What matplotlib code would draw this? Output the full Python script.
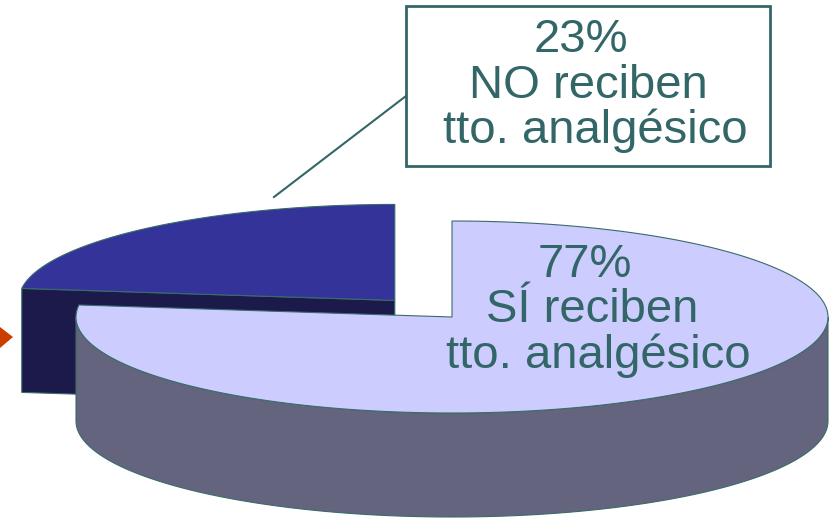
import numpy as np
import matplotlib
matplotlib.use("Agg")
import matplotlib.pyplot as plt
from matplotlib.patches import Polygon, Rectangle

plt.rcParams['font.family'] = ['Liberation Sans', 'DejaVu Sans']

# data
labels = ["SÍ reciben\ntto. analgésico", "NO reciben\ntto. analgésico"]
values = [77, 23]
top_colors = ["#ccccff", "#333399"]
side_colors = ["#64647e", "#1b1a4b"]
explode = [0.0, 0.23]

text_col = "#336666"
edge_col = "#3a6b6b"

# pie geometry (pixel space, y down)
cx, cy = 452, 317
ra, rb = 376, 96
depth = 104

fig = plt.figure(figsize=(8.36, 5.21), dpi=100)
ax = fig.add_axes([0, 0, 1, 1])
ax.set_xlim(0, 836)
ax.set_ylim(521, 0)
ax.axis('off')


def pt(ang, ox, oy, dz=0):
    a = np.radians(ang)
    return ox + ra * np.cos(a), oy - rb * np.sin(a) + dz


fracs = np.array(values) / sum(values)
start = 90.0
slices = []
for i, f in enumerate(fracs):
    a0 = start
    a1 = start - 360 * f      # clockwise
    mid = np.radians((a0 + a1) / 2)
    ox = cx + explode[i] * ra * np.cos(mid)
    oy = cy - explode[i] * rb * np.sin(mid)
    slices.append((a1, a0, ox, oy))
    start = a1

# draw the exploded (back) slice first
order = [1, 0]
for i in order:
    a1, a0, ox, oy = slices[i]
    # radial face that points to the left (toward the viewer)
    fa = min((a0, a1), key=lambda t: np.cos(np.radians(t)))
    ex, ey = pt(fa, ox, oy)
    face = [(ox, oy), (ex, ey), (ex, ey + depth), (ox, oy + depth)]
    if i == 1:
        ax.add_patch(Polygon(face, closed=True, fc=side_colors[i], ec=edge_col, lw=0.8))
    # outer side for the front half
    lo = max(a1, -180)
    hi = min(a0, 0)
    if hi > lo:
        th = np.linspace(lo, hi, 200)
        top = [pt(t, ox, oy) for t in th]
        bot = [pt(t, ox, oy, depth) for t in th[::-1]]
        ax.add_patch(Polygon(top + bot, closed=True, fc=side_colors[i], ec=edge_col, lw=0.8))
    # top face
    th = np.linspace(a1, a0, 300)
    pts = [(ox, oy)] + [pt(t, ox, oy) for t in th]
    ax.add_patch(Polygon(pts, closed=True, fc=top_colors[i], ec=edge_col, lw=0.8))

fs = 34

# label inside the big slice
lines_in = ["%d%%" % values[0]] + labels[0].split("\n")
for txt, x, y in zip(lines_in, [585, 592, 598], [277, 322, 368]):
    ax.text(x, y, txt, color=text_col, fontsize=fs, ha='center', va='baseline')

# callout box for the small slice
ax.add_patch(Rectangle((406, 6), 364, 160, fill=False, ec=text_col, lw=2))
lines_out = ["%d%%" % values[1]] + labels[1].split("\n")
for txt, x, y in zip(lines_out, [581, 588, 595], [52, 98, 143]):
    ax.text(x, y, txt, color=text_col, fontsize=fs, ha='center', va='baseline')
ax.plot([274, 406], [197, 96], color=text_col, lw=1.5)

# orange slide marker on the left edge
ax.add_patch(Polygon([(0, 327), (13, 337), (0, 348)], closed=True, fc="#cc3d00", ec="none"))

fig.savefig("out.png", dpi=100)
